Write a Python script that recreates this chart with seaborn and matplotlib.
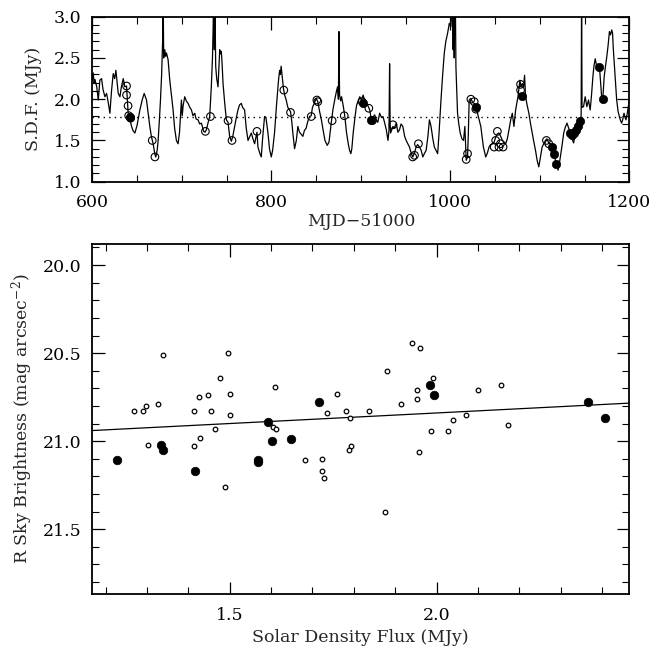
import numpy as np
import pandas as pd
import matplotlib
matplotlib.use("Agg")
import matplotlib.pyplot as plt
import seaborn as sns
from matplotlib.ticker import MultipleLocator

# ---------------- data: top panel (solar density flux time series) ----------------
mjd = [600, 601, 602, 603, 605, 606.7, 608.5, 610.4, 612, 614.1, 616, 618, 619.7, 621.5, 623.4, 625,
       626.4, 628, 629, 630.9, 632.5, 634.6, 636.4, 638.3, 639.2, 640.1, 641.5, 643.9, 645.5, 647.6,
       650, 653.2, 656, 658, 660.6, 662.5, 664.3, 666, 668, 670, 671, 672.5, 673.6, 675, 676.2, 677.5,
       678.6, 679.2, 679.8, 681, 682, 682.9, 684.7, 686.6, 688.5, 690.3, 692, 694, 695.9, 697.5, 699.6,
       700.5, 701.5, 703.3, 705, 707, 709, 710.8, 712.5, 714.5, 716, 718.2, 720, 721.9, 723.5, 724.5,
       726, 727.5, 729.5, 731.2, 733, 734.3, 735, 735.6, 736.4, 737, 737.9, 739, 740.5, 741.5, 742.4,
       743.3, 744.2, 745.2, 746.1, 748, 749.8, 751.7, 753.5, 755.4, 757, 759.1, 761, 762.8, 764.5,
       766.5, 768, 770.2, 772, 774, 776, 777.7, 779.5, 781.4, 783, 784, 785.1, 787, 788.8, 790.5, 792.5,
       794, 796.3, 798, 800, 801.5, 803.7, 806, 808, 809.3, 810.2, 811, 812.5, 813.7, 815, 816.7, 818.5,
       821.5, 823, 824, 826, 828, 829.7, 831.5, 833, 835.3, 837, 839, 840.5, 842.7, 844.6, 846, 848,
       850.2, 852, 854, 856, 858, 860, 862.5, 864.5, 866, 867.4, 869, 871, 872.5, 874, 875, 875.6, 876.3,
       877.5, 878.5, 880.4, 882.2, 884, 886, 887.5, 888.9, 890, 891.5, 893.5, 895.2, 897, 898.9, 900.7,
       902.6, 904.5, 906.3, 908, 910, 911.8, 913.5, 915.5, 917.4, 919, 921.1, 923, 924.8, 926.5, 928.5,
       930.4, 931.5, 932.2, 932.8, 933.3, 935.9, 937.5, 939.6, 941.5, 943.3, 945, 947, 949, 950.7, 952.5,
       954.4, 956, 958.1, 960, 961.8, 963.5, 965.6, 967.5, 969.3, 971, 973, 975, 976.7, 978.5, 980.5,
       982.2, 984, 985.9, 987.5, 989.6, 991.5, 993.3, 995, 997, 998.9, 1000.7, 1001.8, 1002.6, 1003.2,
       1003.7, 1004.4, 1005.0, 1005.6, 1006.3, 1007.2, 1008.1, 1009.5, 1011.1, 1013, 1014.8, 1016.3,
       1017.8, 1019.3, 1020.2, 1021.1, 1023, 1025, 1026.7, 1028.5, 1030.4, 1032.2, 1034.1, 1035.5, 1037,
       1038.3, 1039.6, 1041.5, 1043.3, 1045, 1047, 1049, 1050.7, 1052.6, 1054.4, 1056.3, 1058.2, 1060,
       1061.9, 1063.7, 1065.6, 1067.5, 1069.3, 1071.1, 1073, 1075.6, 1077.8, 1079, 1080.4, 1081.8, 1083,
       1084.1, 1086, 1087.8, 1089.7, 1091.5, 1093.4, 1095.2, 1097, 1098.9, 1100.7, 1102.6, 1104.5,
       1106.3, 1108, 1110, 1111.9, 1113.7, 1115.6, 1117, 1118.5, 1120.4, 1121.5, 1123, 1125, 1126.7,
       1128.5, 1130.4, 1132.3, 1134.1, 1136, 1137.8, 1139.6, 1141.5, 1143.4, 1145.2, 1146.2, 1146.7,
       1147.2, 1148.9, 1150.7, 1152.6, 1154.4, 1156.3, 1157.8, 1159.3, 1160.5, 1161.9, 1163.7, 1165,
       1166.7, 1168, 1169.3, 1170.4, 1171.9, 1173.4, 1174.8, 1176.3, 1177.8, 1179, 1180.4, 1181.3,
       1182.2, 1184, 1185.9, 1187.5, 1188.9, 1190.2, 1191.5, 1192.8, 1194.1, 1195.2, 1196.3, 1197.6,
       1198.9, 1200]
sdf = [2.23, 2.32, 2.20, 2.24, 2.15, 1.99, 2.23, 2.25, 2.12, 2.03, 2.07, 1.95, 1.83, 2.10, 2.31, 2.25,
       2.35, 2.18, 2.07, 2.03, 2.15, 2.25, 2.15, 2.16, 2.00, 1.83, 1.78, 1.67, 1.62, 1.59,
       1.68, 1.87, 2.00, 2.07, 1.99, 1.82, 1.67, 1.55, 1.46, 1.33, 1.30, 1.38, 1.50, 1.75, 1.99, 2.30,
       2.70, 3.30, 2.50, 2.60, 2.52, 2.56, 2.48, 2.23, 2.05, 1.87, 1.65, 1.50, 1.46, 1.60, 1.99,
       1.80, 1.92, 2.03, 1.98, 1.95, 1.90, 1.87, 1.80, 1.83, 1.76, 1.75, 1.70, 1.71, 1.65, 1.61,
       1.60, 1.63, 1.72, 1.79, 2.15, 2.50, 2.85, 3.30, 2.60, 3.30, 2.40, 2.25, 2.15, 2.40, 2.60,
       2.55, 2.58, 2.40, 2.19, 1.95, 1.75, 1.72, 1.55, 1.49, 1.55, 1.67, 1.78, 1.87, 1.93,
       1.95, 1.90, 1.87, 1.65, 1.50, 1.55, 1.59, 1.52, 1.46, 1.55, 1.60, 1.42, 1.35, 1.30, 1.55, 1.79,
       1.78, 1.59, 1.40, 1.30, 1.38, 1.60, 1.95, 2.22, 2.35, 2.30, 2.40, 2.25, 2.12, 2.05, 1.99, 1.90,
       1.85, 1.72, 1.60, 1.40, 1.50, 1.67, 1.60, 1.58, 1.55, 1.62, 1.65, 1.72, 1.79, 1.80, 1.90, 1.95,
       2.01, 1.97, 1.85, 1.75, 1.62, 1.50, 1.44, 1.48, 1.62, 1.75, 1.88, 2.00, 2.08, 2.15, 2.00, 2.82, 2.05,
       1.98, 2.03, 1.92, 1.79, 1.60, 1.46, 1.38, 1.34, 1.40, 1.59, 1.78, 1.92, 1.98, 2.03, 1.99,
       2.05, 1.98, 1.95, 1.92, 1.87, 1.75, 1.78, 1.81, 1.75, 1.72, 1.83, 1.78, 1.79, 1.72, 1.63,
       1.50, 1.62, 2.43, 1.70, 1.59, 1.67, 1.65, 1.71, 1.60, 1.63, 1.70, 1.67, 1.55, 1.50, 1.46,
       1.42, 1.36, 1.30, 1.35, 1.42, 1.45, 1.42, 1.38, 1.30, 1.34, 1.38, 1.55, 1.75, 1.67, 1.52,
       1.42, 1.38, 1.34, 1.60, 1.99, 2.30, 2.56, 2.70, 2.80, 2.92, 2.88, 3.10, 3.30, 2.60,
       3.30, 2.50, 3.30, 3.30, 2.39, 2.10, 1.83, 1.70, 1.59, 1.52, 1.50, 1.67,
       1.26, 1.30, 1.60, 1.99, 2.01, 1.96, 1.95, 1.90, 1.83, 1.75, 1.67, 1.55, 1.42,
       1.36, 1.30, 1.35, 1.42, 1.45, 1.46, 1.48, 1.54, 1.58, 1.59, 1.55, 1.50, 1.48,
       1.46, 1.52, 1.63, 1.75, 1.83, 1.67, 1.87, 2.03, 2.23, 2.15, 2.19, 2.15, 2.29,
       2.03, 1.92, 1.83, 1.70, 1.59, 1.48, 1.38, 1.26, 1.18, 1.30, 1.42, 1.46,
       1.50, 1.52, 1.47, 1.46, 1.42, 1.34, 1.28, 1.22, 1.14, 1.20, 1.30, 1.45, 1.59,
       1.66, 1.71, 1.65, 1.59, 1.52, 1.47, 1.58, 1.67, 1.72, 1.75, 1.80, 3.30,
       1.90, 1.91, 2.03, 1.91, 1.99, 1.87, 2.05, 2.27, 2.40, 2.49, 2.39, 2.42,
       2.39, 2.20, 2.00, 2.00, 2.27, 2.40, 2.51, 2.65, 2.82, 2.78, 2.84, 2.80,
       2.60, 2.30, 1.99, 1.85, 1.79, 1.74, 1.71, 1.76, 1.83, 1.78, 1.75, 1.82,
       1.91, 1.99]

sdf_threshold = [1.79]

top_open_mjd = [638.3, 638.3, 640.0, 640.7, 642.8, 667.0, 670.0, 726.4, 732.0, 751.7, 756.1, 784.0,
                814.0, 821.5, 844.6, 850.9, 852.0, 868.0, 881.5, 901.5, 909.0, 913.0, 936.0, 958.0,
                960.0, 964.4, 1017.8, 1019.3, 1023.0, 1026.7, 1028.5, 1049.0, 1050.7, 1052.6,
                1054.4, 1056.0, 1059.0, 1078.5, 1078.5, 1107.4, 1110.0]
top_open_sdf = [2.16, 2.05, 1.92, 1.80, 1.77, 1.50, 1.30, 1.61, 1.79, 1.74, 1.50, 1.61,
                2.11, 1.84, 1.79, 1.99, 1.97, 1.74, 1.80, 1.97, 1.89, 1.74, 1.69, 1.30,
                1.32, 1.46, 1.27, 1.34, 2.00, 1.97, 1.88, 1.42, 1.50, 1.61,
                1.42, 1.46, 1.42, 2.18, 2.11, 1.50, 1.46]
top_filled_mjd = [642.0, 902.6, 911.0, 1028.5, 1080.4, 1113.7, 1115.6, 1117.8, 1133.3, 1136.0,
                  1138.5, 1140.8, 1142.6, 1144.8, 1166.7, 1170.4]
top_filled_sdf = [1.79, 1.95, 1.75, 1.90, 2.04, 1.42, 1.34, 1.22, 1.59, 1.57,
                  1.59, 1.63, 1.67, 1.73, 2.39, 2.00]

# ---------------- data: bottom panel (sky brightness vs flux) ----------------
open_flux = [1.340, 1.497, 1.477, 1.270, 1.291, 1.297, 1.327, 1.427, 1.448, 1.502, 1.415, 1.456,
             1.502, 1.465, 1.428, 1.303, 1.415, 1.489, 1.609, 1.605, 1.612, 1.682, 1.724, 1.724,
             1.728, 1.759, 1.736, 1.781, 1.791, 1.793, 1.789, 1.836, 1.941, 1.960, 1.880, 1.991,
             1.952, 1.952, 1.915, 2.101, 2.156, 2.072, 2.040, 1.986, 2.028, 2.172, 1.958, 1.876]
open_mag = [20.51, 20.50, 20.64, 20.83, 20.83, 20.80, 20.79, 20.75, 20.74, 20.73, 20.83, 20.83,
            20.85, 20.93, 20.98, 21.02, 21.03, 21.26, 20.69, 20.92, 20.93, 21.11, 21.10, 21.17,
            21.21, 20.73, 20.84, 20.83, 20.87, 21.03, 21.05, 20.83, 20.44, 20.47, 20.60, 20.64,
            20.71, 20.76, 20.79, 20.71, 20.68, 20.85, 20.88, 20.94, 20.94, 20.91, 21.06, 21.40]
filled_flux = [1.227, 1.333, 1.338, 1.416, 1.568, 1.569, 1.593, 1.603, 1.649, 1.716, 1.983, 1.995,
               2.366, 2.406]
filled_mag = [21.11, 21.02, 21.05, 21.17, 21.11, 21.12, 20.89, 21.00, 20.99, 20.78, 20.68, 20.74,
              20.78, 20.87]

fit_intercept = 21.08
fit_slope = -0.12

# ---------------- style ----------------
sns.set_style("ticks")
plt.rcParams["font.family"] = ["DejaVu Serif"]
plt.rcParams["mathtext.fontset"] = "dejavuserif"
plt.rcParams["axes.linewidth"] = 1.3
FS = 12.5

fig = plt.figure(figsize=(6.53, 6.48), dpi=100)
ax1 = fig.add_axes([0.1413, 0.7196, 0.8224, 0.2546])
ax2 = fig.add_axes([0.1413, 0.0829, 0.8219, 0.5406])

# ---------- top panel ----------
ts = pd.DataFrame({"mjd": mjd, "sdf": sdf})
sns.lineplot(data=ts, x="mjd", y="sdf", ax=ax1, color="black", linewidth=0.9,
             estimator=None, sort=False)
ax1.axhline(sdf_threshold[0], color="black", linestyle=(0, (1, 3)), linewidth=1.0)
sns.scatterplot(x=top_open_mjd, y=top_open_sdf, ax=ax1, marker="o", s=30,
                facecolor="none", edgecolor="black", linewidth=0.8, zorder=3)
sns.scatterplot(x=top_filled_mjd, y=top_filled_sdf, ax=ax1, marker="o", s=36,
                color="black", edgecolor="black", linewidth=0.5, zorder=4)
ax1.set_xlim(600, 1200)
ax1.set_ylim(1.0, 3.0)
ax1.xaxis.set_major_locator(MultipleLocator(200))
ax1.xaxis.set_minor_locator(MultipleLocator(50))
ax1.yaxis.set_major_locator(MultipleLocator(0.5))
ax1.yaxis.set_minor_locator(MultipleLocator(0.1))
ax1.set_yticks([1.0, 1.5, 2.0, 2.5, 3.0])
ax1.set_yticklabels(["1.0", "1.5", "2.0", "2.5", "3.0"])
ax1.set_xlabel("MJD\u221251000", fontsize=FS)
ax1.set_ylabel("S.D.F. (MJy)", fontsize=FS)
ax1.xaxis.set_label_coords(0.5, -0.242)
ax1.xaxis.label.set_va("center")
ax1.yaxis.set_label_coords(-0.110, 0.5)
ax1.yaxis.label.set_va("center")

# ---------- bottom panel ----------
sns.scatterplot(x=open_flux, y=open_mag, ax=ax2, marker="o", s=11,
                facecolor="white", edgecolor="black", linewidth=0.9, zorder=3)
sns.scatterplot(x=filled_flux, y=filled_mag, ax=ax2, marker="o", s=38,
                color="black", edgecolor="black", linewidth=0.5, zorder=4)
xlim2 = (1.168, 2.465)
fit_x = np.array(xlim2)
fit_y = fit_intercept + fit_slope * fit_x
sns.lineplot(x=fit_x, y=fit_y, ax=ax2, color="black", linewidth=0.9)
ax2.set_xlim(*xlim2)
ax2.set_ylim(21.87, 19.88)
ax2.xaxis.set_major_locator(MultipleLocator(0.5))
ax2.xaxis.set_minor_locator(MultipleLocator(0.1))
ax2.yaxis.set_major_locator(MultipleLocator(0.5))
ax2.yaxis.set_minor_locator(MultipleLocator(0.1))
ax2.set_xticks([1.5, 2.0])
ax2.set_xticklabels(["1.5", "2.0"])
ax2.set_yticks([20.0, 20.5, 21.0, 21.5])
ax2.set_yticklabels(["20.0", "20.5", "21.0", "21.5"])
ax2.set_xlabel("Solar Density Flux (MJy)", fontsize=FS)
ax2.set_ylabel(r"R Sky Brightness (mag arcsec$^{-2}$)", fontsize=FS)
ax2.xaxis.set_label_coords(0.5, -0.1248)
ax2.xaxis.label.set_va("center")
ax2.yaxis.set_label_coords(-0.131, 0.5)
ax2.yaxis.label.set_va("center")

for ax in (ax1, ax2):
    ax.tick_params(which="both", direction="in", top=True, right=True,
                   labelsize=FS, colors="black")
    ax.tick_params(which="major", length=9, width=0.9)
    ax.tick_params(which="minor", length=4.8, width=0.8)
    ax.tick_params(axis="y", which="major", pad=8)
    ax.tick_params(axis="x", which="major", pad=9)
    for sp in ax.spines.values():
        sp.set_visible(True)
        sp.set_color("black")

fig.savefig("out.png", dpi=100)
